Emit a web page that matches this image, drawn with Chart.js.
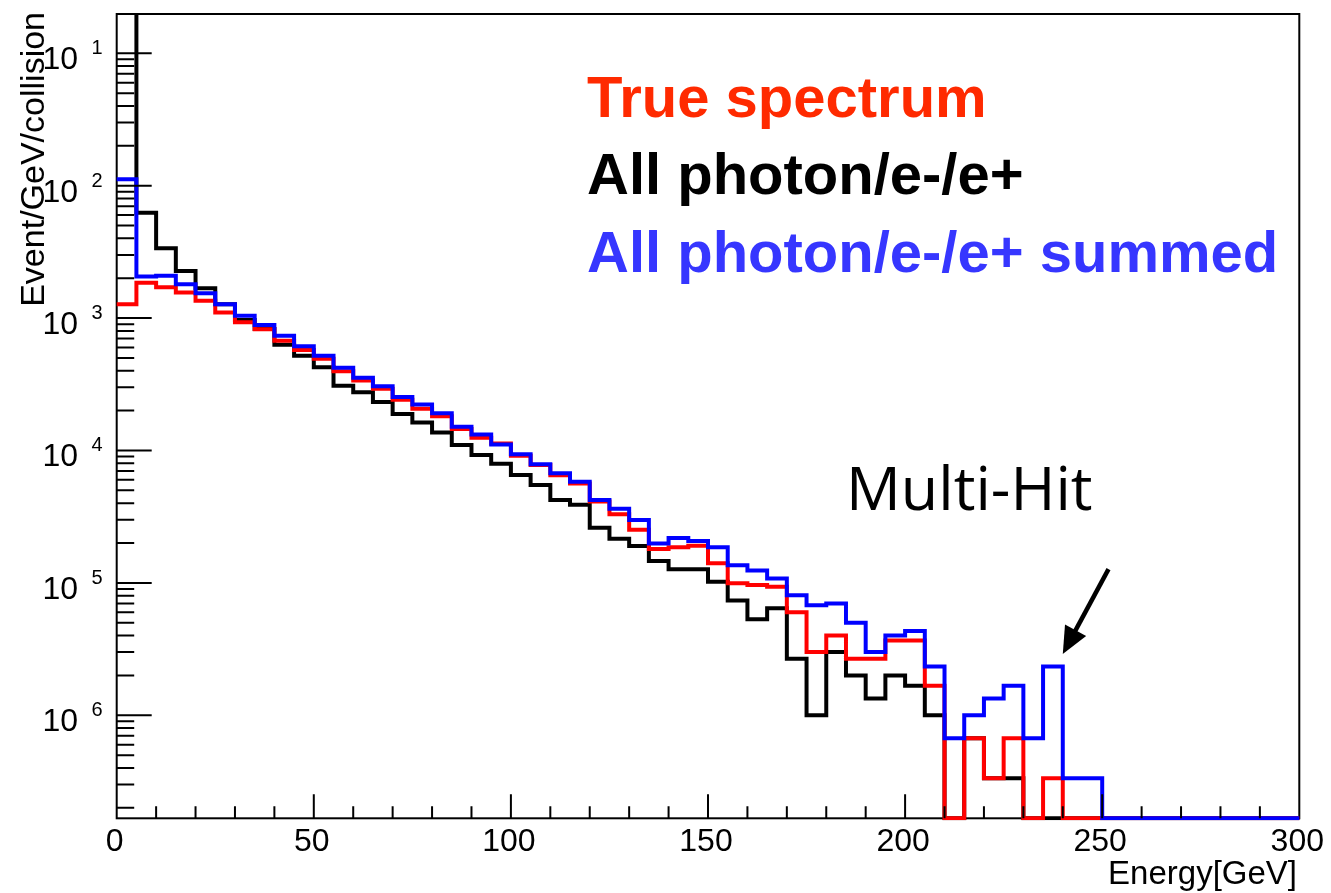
<!DOCTYPE html>
<html>
<head>
<meta charset="utf-8">
<script src="https://cdn.jsdelivr.net/npm/chart.js@4.4.1/dist/chart.umd.min.js"></script>
<style>
    html, body { margin: 0; padding: 0; background: #fff; }
    #wrap { width: 1331px; height: 893px; position: relative; }
</style>
</head>
<body>
<div id="wrap"><canvas id="spectrum"></canvas></div>
<script>
// lower edge of every 5 GeV bin
const binLow = [0, 5, 10, 15, 20, 25, 30, 35, 40, 45, 50, 55, 60, 65, 70, 75, 80, 85, 90, 95,
    100, 105, 110, 115, 120, 125, 130, 135, 140, 145, 150, 155, 160, 165, 170, 175, 180, 185, 190, 195,
    200, 205, 210, 215, 220, 225, 230, 235, 240, 245, 250, 255, 260, 265, 270, 275, 280, 285, 290, 295];
const xMax = 300;

const trueSpectrum = [1.27e-3, 1.85e-3, 1.71e-3, 1.56e-3, 1.35e-3, 1.10e-3, 9.29e-4, 8.23e-4, 6.75e-4, 5.74e-4,
    4.93e-4, 3.96e-4, 3.37e-4, 2.92e-4, 2.42e-4, 2.07e-4, 1.81e-4, 1.45e-4, 1.25e-4, 1.13e-4,
    9.14e-5, 7.76e-5, 6.50e-5, 5.64e-5, 4.12e-5, 3.30e-5, 2.52e-5, 1.80e-5, 1.86e-5, 1.91e-5,
    1.41e-5, 9.93e-6, 9.64e-6, 9.35e-6, 6.0e-6, 3.0e-6, 4.0e-6, 2.67e-6, 2.67e-6, 3.67e-6,
    3.67e-6, 1.67e-6, 0, 6.7e-7, 3.34e-7, 6.7e-7, 0, 3.34e-7, 0, 0,
    0, 0, 0, 0, 0, 0, 0, 0, 0, 0];

const allPhoton = [0.3, 6.25e-3, 3.37e-3, 2.27e-3, 1.68e-3, 1.27e-3, 9.68e-4, 8.28e-4, 6.30e-4, 5.20e-4,
    4.25e-4, 3.08e-4, 2.75e-4, 2.32e-4, 1.89e-4, 1.63e-4, 1.37e-4, 1.10e-4, 9.25e-5, 7.94e-5,
    6.53e-5, 5.48e-5, 4.23e-5, 3.90e-5, 2.61e-5, 2.15e-5, 1.90e-5, 1.46e-5, 1.27e-5, 1.27e-5,
    1.02e-5, 7.35e-6, 5.31e-6, 6.43e-6, 2.67e-6, 1.0e-6, 3.0e-6, 2.0e-6, 1.34e-6, 2.0e-6,
    1.67e-6, 1.0e-6, 0, 6.7e-7, 3.34e-7, 3.34e-7, 0, 0, 0, 0,
    0, 0, 0, 0, 0, 0, 0, 0, 0, 0];

const allPhotonSummed = [1.12e-2, 2.06e-3, 2.09e-3, 1.80e-3, 1.54e-3, 1.27e-3, 1.04e-3, 8.87e-4, 7.36e-4, 6.12e-4,
    5.20e-4, 4.22e-4, 3.55e-4, 3.05e-4, 2.54e-4, 2.22e-4, 1.91e-4, 1.51e-4, 1.32e-4, 1.11e-4,
    9.36e-5, 7.87e-5, 6.73e-5, 5.81e-5, 4.23e-5, 3.63e-5, 2.99e-5, 1.98e-5, 2.18e-5, 2.07e-5,
    1.86e-5, 1.36e-5, 1.24e-5, 1.08e-5, 8.05e-6, 6.78e-6, 7.0e-6, 5.0e-6, 3.0e-6, 4.0e-6,
    4.34e-6, 2.34e-6, 6.7e-7, 1.0e-6, 1.34e-6, 1.67e-6, 6.7e-7, 2.34e-6, 3.34e-7, 3.34e-7,
    0, 0, 0, 0, 0, 0, 0, 0, 0, 0];

const yMin = 1.667e-7;
const yMax = 0.198;

const xTicks = [0, 50, 100, 150, 200, 250, 300];
const xMinorStep = 10;
// labels as printed: the minus sign of the exponent is missing in the original
const yTicks = [1e-1, 1e-2, 1e-3, 1e-4, 1e-5, 1e-6];
const yTickExp = ["1", "2", "3", "4", "5", "6"];

const legendLines = [
    { text: "True spectrum", color: "#ff2a00" },
    { text: "All photon/e-/e+", color: "#000000" },
    { text: "All photon/e-/e+ summed", color: "#3636ff" }
];

const arrowTail = { x: 251.6, y: 1.27e-5 };
const arrowTip = { x: 240, y: 2.9e-6 };
const noteLabel = { text: "Multi-Hit", x: 185, y: 3.56e-5 };

const FONT = '"Liberation Sans", Arial, Helvetica, sans-serif';

function toSteps(values) {
    let pts = binLow.map((edge, i) => ({ x: edge, y: values[i] > 0 ? values[i] : yMin }));
    pts.push({ x: xMax, y: pts[pts.length - 1].y });
    return pts;
}

function histSet(label, values, color) {
    return {
        label: label,
        data: toSteps(values),
        borderColor: color,
        borderWidth: 4,
        stepped: "before",
        pointRadius: 0,
        fill: false,
        clip: { left: 2, top: 0, right: 2, bottom: 2 }
    };
}

// ROOT style frame, drawn under the histograms
const rootFrame = {
    id: "rootFrame",
    beforeDatasetsDraw(chart) {
        const { ctx, chartArea: a } = chart;
        ctx.save();
        ctx.strokeStyle = "#000";
        ctx.lineWidth = 2;
        ctx.strokeRect(a.left, a.top, a.right - a.left, a.bottom - a.top);
        ctx.restore();
    },
    afterDatasetsDraw(chart) {
        const { ctx, chartArea: a, scales } = chart;
        const x = scales.x, y = scales.y;
        ctx.save();
        ctx.strokeStyle = "#000";
        ctx.fillStyle = "#000";
        ctx.lineWidth = 2;

        // x ticks
        ctx.beginPath();
        for (let v = 0; v <= xMax; v += xMinorStep) {
            let px = x.getPixelForValue(v);
            let len = v % 50 === 0 ? 24 : 12;
            if (v === 0 || v === xMax) continue;
            ctx.moveTo(px, a.bottom);
            ctx.lineTo(px, a.bottom - len);
        }
        // y ticks, majors and minors
        for (let e = -7; e <= 0; e++) {
            for (let m = 1; m <= 9; m++) {
                let v = m * Math.pow(10, e);
                if (v < yMin || v > yMax) continue;
                let py = y.getPixelForValue(v);
                ctx.moveTo(a.left, py);
                ctx.lineTo(a.left + (m === 1 ? 35 : 17.5), py);
            }
        }
        ctx.stroke();

        // x labels
        ctx.font = "32px " + FONT;
        ctx.textAlign = "center";
        ctx.textBaseline = "alphabetic";
        xTicks.forEach(v => {
            ctx.fillText(String(v), x.getPixelForValue(v) - 2, a.bottom + 33);
        });

        // y labels
        yTicks.forEach((v, i) => {
            let py = y.getPixelForValue(v);
            ctx.font = "32px " + FONT;
            ctx.textAlign = "right";
            ctx.fillText("10", 78, py + 16);
            ctx.font = "20px " + FONT;
            ctx.textAlign = "left";
            ctx.fillText(yTickExp[i], 91.5, py + 1);
        });

        // axis titles
        ctx.font = "33px " + FONT;
        ctx.textAlign = "right";
        ctx.fillText("Energy[GeV]", 1297, 884);
        ctx.save();
        ctx.translate(44, 12);
        ctx.rotate(-Math.PI / 2);
        ctx.textAlign = "right";
        ctx.font = "34px " + FONT;
        ctx.fillText("Event/GeV/collision", 0, 0);
        ctx.restore();

        // legend text block
        ctx.font = "bold 58px " + FONT;
        ctx.textAlign = "left";
        legendLines.forEach((l, i) => {
            ctx.fillStyle = l.color;
            ctx.fillText(l.text, 587, 117 + i * 77.3);
        });

        // Multi-Hit annotation
        ctx.fillStyle = "#000";
        ctx.font = '61px "Open Sans", sans-serif';
        ctx.fillText(noteLabel.text, x.getPixelForValue(noteLabel.x), y.getPixelForValue(noteLabel.y));

        let tx = x.getPixelForValue(arrowTail.x), ty = y.getPixelForValue(arrowTail.y);
        let hx = x.getPixelForValue(arrowTip.x), hy = y.getPixelForValue(arrowTip.y);
        let dx = hx - tx, dy = hy - ty;
        let d = Math.sqrt(dx * dx + dy * dy);
        let ux = dx / d, uy = dy / d;
        let bx = hx - 27 * ux, by = hy - 27 * uy;
        ctx.lineWidth = 4.5;
        ctx.beginPath();
        ctx.moveTo(tx, ty);
        ctx.lineTo(bx + 3 * ux, by + 3 * uy);
        ctx.stroke();
        ctx.beginPath();
        ctx.moveTo(hx, hy);
        ctx.lineTo(bx - 12 * uy, by + 12 * ux);
        ctx.lineTo(bx + 12 * uy, by - 12 * ux);
        ctx.closePath();
        ctx.fill();
        ctx.restore();
    }
};

document.addEventListener("DOMContentLoaded", () => {
    let canvas = document.getElementById("spectrum");
    new Chart(canvas, {
        type: "line",
        data: {
            datasets: [
                histSet("All photon/e-/e+ summed", allPhotonSummed, "#0000ff"),
                histSet("True spectrum", trueSpectrum, "#ff0000"),
                histSet("All photon/e-/e+", allPhoton, "#000000")
            ]
        },
        options: {
            responsive: true,
            maintainAspectRatio: false,
            animation: false,
            devicePixelRatio: 1,
            layout: {
                padding: { left: 116.7, right: 31.7, top: 14, bottom: 74.7 }
            },
            plugins: {
                legend: { display: false },
                tooltip: { enabled: false }
            },
            scales: {
                x: { type: "linear", min: 0, max: xMax, display: false },
                y: { type: "logarithmic", min: yMin, max: yMax, display: false }
            }
        },
        plugins: [rootFrame]
    });
});
</script>
</body>
</html>
